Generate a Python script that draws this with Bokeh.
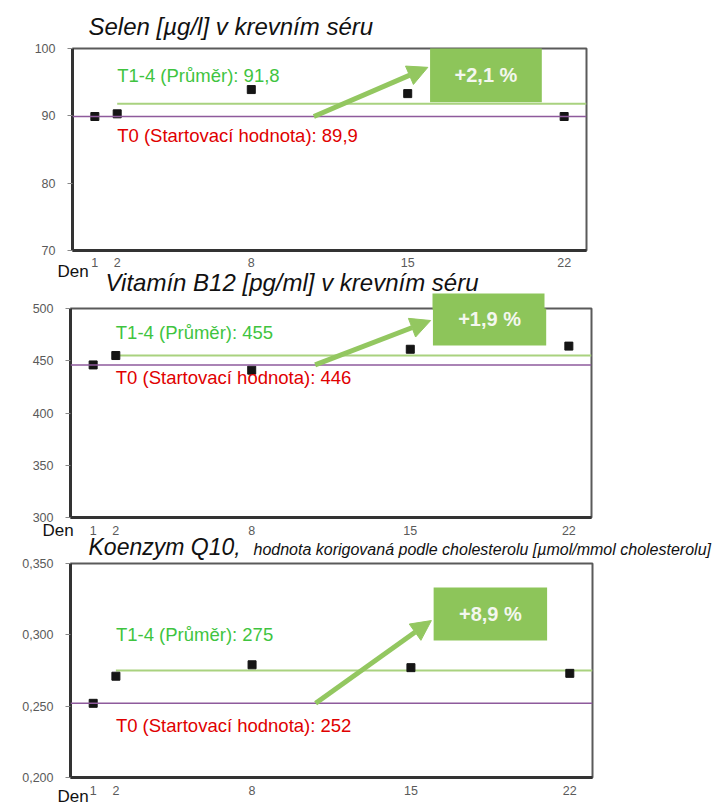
from bokeh.plotting import figure
from bokeh.layouts import column
from bokeh.models import (Label, Span, Arrow, NormalHead, BoxAnnotation,
                          FixedTicker, CustomJSTickFormatter, Range1d)
from bokeh.core.properties import value
from bokeh.embed import file_html
from bokeh.resources import INLINE

# ---------------- data ----------------
days = [1, 2, 8, 15, 22]

selen_values = [89.9, 90.3, 93.9, 93.3, 89.9]
b12_values = [446, 455, 441, 461, 464]
q10_values = [0.252, 0.271, 0.279, 0.277, 0.273]

t0_values = [89.9, 446, 0.252]
mean_values = [91.8, 455, 0.275]
t0_texts = ["89,9", "446", "252"]
mean_texts = ["91,8", "455", "275"]
change_texts = ["+2,1 %", "+1,9 %", "+8,9 %"]

y_ticks_selen = [70, 80, 90, 100]
y_ticks_b12 = [300, 350, 400, 450, 500]
y_ticks_q10 = [0.200, 0.250, 0.300, 0.350]

titles = ["Selen [µg/l] v krevním séru",
          "Vitamín B12 [pg/ml] v krevním séru",
          "Koenzym Q10,"]
subtitle_q10 = "hodnota korigovaná podle cholesterolu [µmol/mmol cholesterolu]"
x_axis_name = "Den"

# ---------------- style ----------------
FONT = "Liberation Sans"
GREEN_TXT = "#3fc43f"
RED_TXT = "#e00000"
BOX_GREEN = "#8dc55a"
ARROW_GREEN = "#93c760"
MEAN_LINE = "#a9d27f"
T0_LINE = "#8e5a9c"
X_RANGE = (0, 23)
W, H = 715, 805


def make_panel(values, t0, mean, t0_txt, mean_txt, change_txt, yticks, yrange,
               fmt, geom):
    p = figure(width=W, height=geom["height"], output_backend="svg",
               toolbar_location=None, x_range=Range1d(*X_RANGE),
               y_range=Range1d(*yrange),
               min_border_left=geom["left"], min_border_right=geom["right"],
               min_border_top=geom["top"], min_border_bottom=geom["bottom"])
    p.frame_align = False
    p.background_fill_color = "white"
    p.border_fill_color = "white"
    p.outline_line_color = "#5a5a5a"
    p.outline_line_width = 2
    p.xgrid.visible = False
    p.ygrid.visible = False

    p.xaxis.ticker = FixedTicker(ticks=days)
    p.xaxis.major_tick_out = 0
    p.xaxis.major_tick_in = 0
    p.xaxis.minor_tick_out = 0
    p.xaxis.minor_tick_in = 0
    p.xaxis.major_label_standoff = geom["xstand"]
    p.yaxis.ticker = FixedTicker(ticks=yticks)
    p.yaxis.minor_tick_out = 0
    p.yaxis.minor_tick_in = 0
    p.yaxis.major_tick_out = 5
    p.yaxis.major_tick_in = 0
    p.yaxis.major_tick_line_color = "#888888"
    p.yaxis.major_label_standoff = 12
    p.yaxis.formatter = fmt
    for ax in (p.xaxis, p.yaxis):
        ax.axis_line_color = "#333333"
        ax.axis_line_width = 3
        ax.major_label_text_font = FONT
        ax.major_label_text_font_size = "12.5px"
        ax.major_label_text_color = "#5a5a5a"

    p.add_layout(Span(location=t0, dimension="width", line_color=T0_LINE,
                      line_width=1.6))
    p.segment(x0=[days[1]], y0=[mean], x1=[X_RANGE[1]], y1=[mean],
              line_color=MEAN_LINE, line_width=2)

    p.scatter(days, values, marker="square", size=8, color="#151515")

    p.add_layout(Label(x=days[1], y=geom["mean_lbl_y"],
                       text=f"T1-4 (Průměr): {mean_txt}",
                       text_font=FONT, text_font_size="18.5px",
                       text_color=GREEN_TXT, text_baseline="middle"))
    p.add_layout(Label(x=days[1], y=geom["t0_lbl_y"],
                       text=f"T0 (Startovací hodnota): {t0_txt}",
                       text_font=FONT, text_font_size="18.5px",
                       text_color=RED_TXT, text_baseline="middle"))

    p.add_layout(Arrow(x_start=geom["arr_x0"], y_start=t0,
                       x_end=geom["arr_x1"], y_end=geom["arr_y1"],
                       line_color=ARROW_GREEN, line_width=5,
                       end=NormalHead(size=20, fill_color=ARROW_GREEN,
                                      line_color=ARROW_GREEN)))
    p.add_layout(BoxAnnotation(left=geom["box"][0], right=geom["box"][1],
                               bottom=geom["box"][2], top=geom["box"][3],
                               fill_color=BOX_GREEN, fill_alpha=1.0,
                               line_color=None))
    p.add_layout(Label(x=(geom["box"][0] + geom["box"][1]) / 2,
                       y=(geom["box"][2] + geom["box"][3]) / 2,
                       text=change_txt, text_font=FONT, text_font_size="20px",
                       text_font_style="bold", text_color="#f4f7ef",
                       text_align="center", text_baseline="middle"))
    return p


fmt_int = CustomJSTickFormatter(code="return tick.toFixed(0)")
fmt_q10 = CustomJSTickFormatter(code="return tick.toFixed(3).replace('.', ',')")

g1 = dict(height=276, left=72, right=129, top=48, bottom=26, xstand=7,
          mean_lbl_y=96.0, t0_lbl_y=87.1, arr_x0=10.8, arr_x1=15.9,
          arr_y1=97.2, box=(16, 21, 92.0, 100.1))
g2 = dict(height=264, left=70, right=124, top=32, bottom=23, xstand=8,
          mean_lbl_y=477.0, t0_lbl_y=434.0, arr_x0=10.8, arr_x1=15.9,
          arr_y1=488.5, box=(16, 21, 464.6, 514.4))
g3 = dict(height=265, left=70, right=123, top=23, bottom=28, xstand=8,
          mean_lbl_y=0.3002, t0_lbl_y=0.2364, arr_x0=10.8, arr_x1=15.9,
          arr_y1=0.310, box=(16, 21, 0.296, 0.3332))

p1 = make_panel(selen_values, t0_values[0], mean_values[0], t0_texts[0],
                mean_texts[0], change_texts[0], y_ticks_selen, (70, 100),
                fmt_int, g1)
p2 = make_panel(b12_values, t0_values[1], mean_values[1], t0_texts[1],
                mean_texts[1], change_texts[1], y_ticks_b12, (300, 500),
                fmt_int, g2)
p3 = make_panel(q10_values, t0_values[2], mean_values[2], t0_texts[2],
                mean_texts[2], change_texts[2], y_ticks_q10, (0.2, 0.35),
                fmt_q10, g3)

# transparent overlay in page-pixel space for the texts that lie outside
# the plot frames (titles, "Den") and the part of the 2nd badge above its frame
ov = figure(width=W, height=H, output_backend="svg", toolbar_location=None,
            x_range=Range1d(0, W), y_range=Range1d(H, 0),
            min_border=0, margin=(-H, 0, 0, 0))
ov.frame_align = False
ov.background_fill_color = None
ov.border_fill_color = None
ov.outline_line_color = None
ov.axis.visible = False
ov.grid.visible = False

ov.quad(left=[432], right=[544], top=[293], bottom=[309], fill_color=BOX_GREEN,
        line_color=None)

ov.text(x=[88, 105], y=[25.5, 282], text=titles[:2], text_font=value(FONT),
        text_font_size="24px", text_font_style="italic", text_color="#111111",
        text_baseline="middle")
ov.text(x=[88], y=[546], text=[titles[2]], text_font=value(FONT),
        text_font_size="23px", text_font_style="italic", text_color="#111111",
        text_baseline="middle")
ov.text(x=[253], y=[548.5], text=[subtitle_q10], text_font=value(FONT),
        text_font_size="16px", text_font_style="italic", text_color="#111111",
        text_baseline="middle")
ov.text(x=[57, 42, 57], y=[270.5, 530, 796], text=[x_axis_name] * 3,
        text_font=value(FONT), text_font_size="17px", text_color="#111111",
        text_baseline="middle")

layout = column(p1, p2, p3, ov, spacing=0)
open("out.html", "w").write(file_html(layout, INLINE))
